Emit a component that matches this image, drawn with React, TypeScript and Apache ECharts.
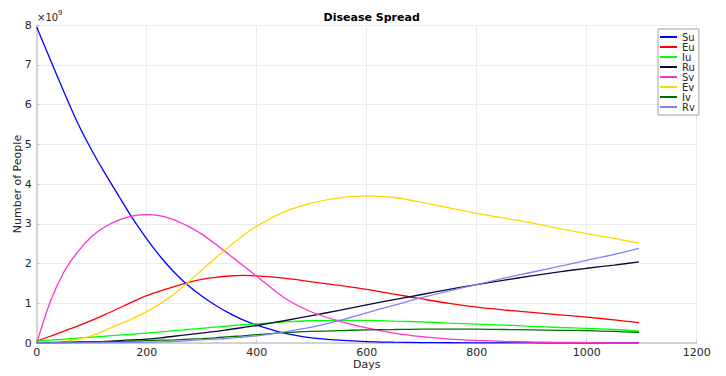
import React, { useEffect, useRef } from "react";
import * as echarts from "echarts";

const days = [0, 25, 50, 75, 100, 125, 150, 175, 200, 225, 250, 275, 300, 325, 350, 375, 400, 450, 500, 550, 600, 650, 700, 750, 800, 850, 900, 950, 1000, 1050, 1095];

const Su = [7.95, 7.12, 6.3, 5.52, 4.85, 4.25, 3.68, 3.12, 2.62, 2.17, 1.78, 1.45, 1.18, 0.95, 0.75, 0.58, 0.45, 0.25, 0.13, 0.07, 0.035, 0.02, 0.01, 0.006, 0.004, 0.002, 0.001, 0, 0, 0, 0];
const Eu = [0.05, 0.17, 0.3, 0.43, 0.57, 0.72, 0.88, 1.04, 1.19, 1.31, 1.42, 1.52, 1.6, 1.65, 1.685, 1.7, 1.69, 1.63, 1.54, 1.45, 1.35, 1.23, 1.11, 0.995, 0.9, 0.83, 0.77, 0.71, 0.65, 0.58, 0.51];
const Iu = [0.05, 0.07, 0.1, 0.12, 0.15, 0.17, 0.2, 0.22, 0.25, 0.28, 0.31, 0.34, 0.37, 0.4, 0.43, 0.46, 0.48, 0.53, 0.56, 0.57, 0.57, 0.55, 0.53, 0.5, 0.475, 0.45, 0.42, 0.39, 0.37, 0.34, 0.3];
const Ru = [0, 0.005, 0.01, 0.02, 0.03, 0.04, 0.06, 0.08, 0.1, 0.13, 0.17, 0.21, 0.25, 0.29, 0.34, 0.39, 0.44, 0.56, 0.69, 0.82, 0.96, 1.09, 1.22, 1.35, 1.47, 1.58, 1.69, 1.79, 1.88, 1.96, 2.04];
const Sv = [0, 1.05, 1.8, 2.3, 2.68, 2.93, 3.1, 3.2, 3.23, 3.2, 3.1, 2.94, 2.74, 2.49, 2.22, 1.95, 1.68, 1.14, 0.78, 0.55, 0.38, 0.25, 0.16, 0.1, 0.065, 0.04, 0.025, 0.015, 0.01, 0.005, 0.005];
const Ev = [0, 0.01, 0.04, 0.1, 0.18, 0.32, 0.47, 0.62, 0.79, 0.99, 1.23, 1.52, 1.83, 2.14, 2.43, 2.7, 2.94, 3.3, 3.52, 3.65, 3.7, 3.66, 3.54, 3.4, 3.26, 3.14, 3.02, 2.88, 2.75, 2.63, 2.51];
const Iv = [0.01, 0.015, 0.02, 0.025, 0.03, 0.035, 0.04, 0.05, 0.06, 0.07, 0.08, 0.095, 0.11, 0.13, 0.16, 0.18, 0.21, 0.26, 0.29, 0.31, 0.33, 0.34, 0.35, 0.35, 0.35, 0.34, 0.33, 0.32, 0.31, 0.29, 0.27];
const Rv = [0, 0, 0, 0, 0.005, 0.005, 0.01, 0.015, 0.02, 0.03, 0.04, 0.06, 0.08, 0.1, 0.12, 0.15, 0.18, 0.28, 0.4, 0.56, 0.76, 0.95, 1.14, 1.31, 1.47, 1.63, 1.78, 1.93, 2.08, 2.23, 2.38];

const seriesNames = ["Su", "Eu", "Iu", "Ru", "Sv", "Ev", "Iv", "Rv"];
const seriesValues = [Su, Eu, Iu, Ru, Sv, Ev, Iv, Rv];
const seriesColors = ["#0000FF", "#FF0000", "#00FF00", "#0a0a33", "#FF33CC", "#FFD700", "#007000", "#8080FF"];

const FONT = "DejaVu Sans";

export default function App() {
  const ref = useRef<HTMLDivElement>(null);
  useEffect(() => {
    if (!ref.current) return;
    const chart = echarts.init(ref.current, undefined, { renderer: "svg" });
    chart.setOption({
      animation: false,
      backgroundColor: "#ffffff",
      textStyle: { fontFamily: FONT },
      title: {
        text: "Disease Spread",
        left: 366.7,
        textAlign: "center",
        top: 7,
        textStyle: { fontFamily: FONT, fontSize: 11, fontWeight: "bold", color: "#000" },
      },
      grid: { left: 36.7, right: 29.3, top: 25, bottom: 33, containLabel: false, outerBoundsMode: "none" },
      legend: {
        orient: "vertical",
        left: 658,
        top: 29,
        padding: [3, 4, 3, 2],
        itemGap: 0,
        itemWidth: 17,
        itemHeight: 2,
        icon: "rect",
        borderColor: "#a0a0a0",
        borderWidth: 1,
        backgroundColor: "#fff",
        textStyle: { fontFamily: FONT, fontSize: 10, color: "#262626", lineHeight: 10 },
        data: seriesNames,
      },
      xAxis: {
        type: "value",
        min: 0,
        max: 1200,
        interval: 200,
        name: "Days",
        nameLocation: "middle",
        nameGap: 16,
        nameMoveOverlap: false,
        nameTextStyle: { fontFamily: FONT, fontSize: 11, color: "#262626", verticalAlign: "top" },
        axisLine: { lineStyle: { color: "#c8c8c8", width: 1.5 } },
        axisTick: { inside: true, length: 3, lineStyle: { color: "#c8c8c8" } },
        axisLabel: { fontFamily: FONT, fontSize: 11, color: "#262626", margin: 4, formatter: (v: number) => String(v) },
        splitLine: { show: true, lineStyle: { color: "#ebebeb", width: 1 } },
      },
      yAxis: {
        type: "value",
        min: 0,
        max: 8,
        interval: 1,
        name: "Number of People",
        nameLocation: "middle",
        nameGap: 14,
        nameMoveOverlap: false,
        nameTextStyle: { fontFamily: FONT, fontSize: 11, color: "#262626" },
        axisLine: { show: true, lineStyle: { color: "#c8c8c8", width: 1.5 } },
        axisTick: { show: true, inside: true, length: 3, lineStyle: { color: "#c8c8c8" } },
        axisLabel: { fontFamily: FONT, fontSize: 11, color: "#262626", margin: 5 },
        splitLine: { show: true, lineStyle: { color: "#ebebeb", width: 1 } },
      },
      graphic: [
        {
          type: "text",
          left: 37,
          top: 9,
          style: {
            text: "{a|×10}{b|9}",
            rich: {
              a: { fontFamily: FONT, fontSize: 10, fill: "#262626", verticalAlign: "bottom" },
              b: { fontFamily: FONT, fontSize: 7, fill: "#262626", verticalAlign: "top", padding: [0, 0, 6, 0] },
            },
          },
        },
      ],
      series: seriesNames.map((name, i) => ({
        name,
        type: "line",
        data: days.map((d, j) => [d, seriesValues[i][j]]),
        smooth: 0.3,
        showSymbol: false,
        symbol: "none",
        lineStyle: { color: seriesColors[i], width: 1.3 },
        itemStyle: { color: seriesColors[i] },
      })),
    });
    return () => chart.dispose();
  }, []);
  return (
    <div
      ref={ref}
      style={{ position: "fixed", left: 0, top: 0, width: 726, height: 376, background: "#fff" }}
    />
  );
}
